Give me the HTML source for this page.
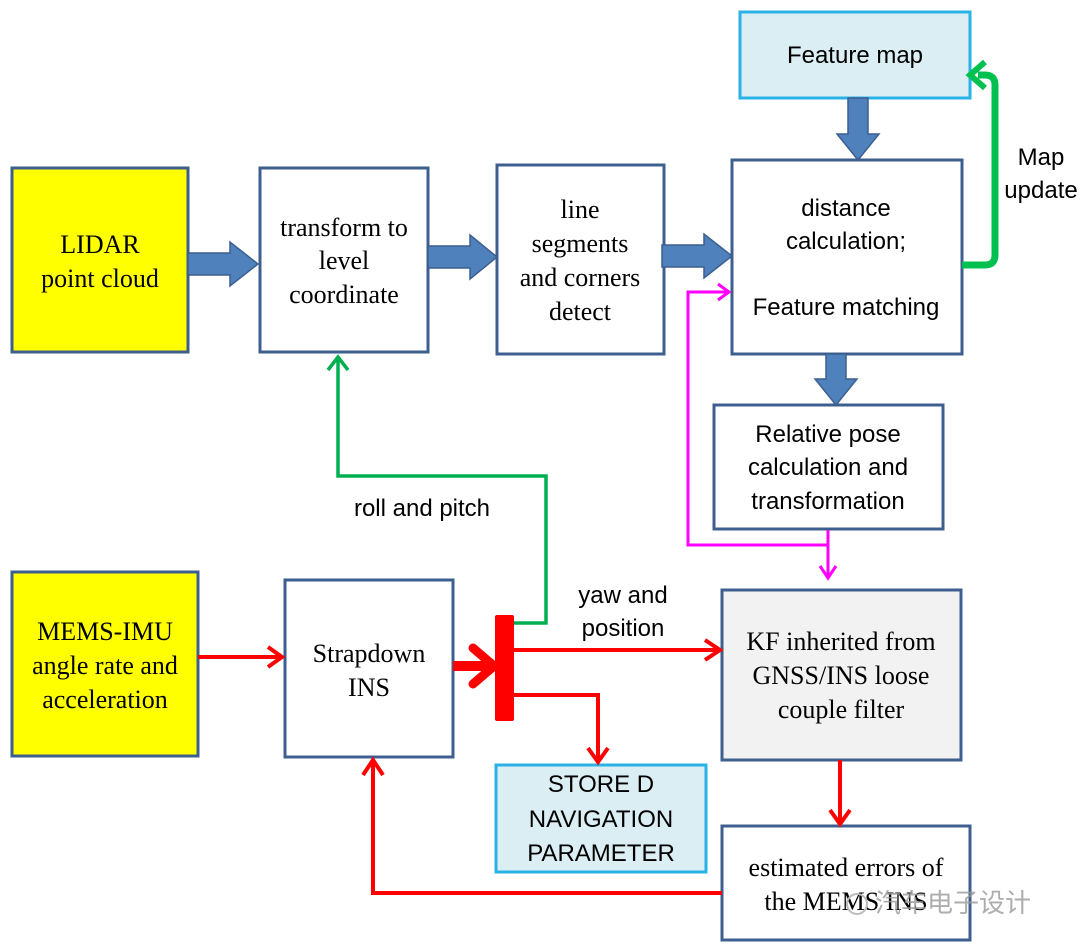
<!DOCTYPE html><html><head><style>body{margin:0;background:#fff}svg{display:block}
.s{font-family:"Liberation Serif",serif;font-size:26px;fill:#000}
.a{font-family:"Liberation Sans",sans-serif;font-size:24px;fill:#000}</style></head><body>
<svg width="1080" height="950" viewBox="0 0 1080 950">
<g stroke="#3d5f8f" stroke-width="3">
<rect x="12" y="168" width="176" height="184" fill="#ffff00"/>
<rect x="260" y="168" width="168" height="184" fill="#fff"/>
<rect x="497" y="165" width="167" height="189" fill="#fff"/>
<rect x="732" y="160" width="230" height="194" fill="#fff"/>
<rect x="714" y="405" width="229" height="124" fill="#fff"/>
<rect x="12" y="572" width="186" height="184" fill="#ffff00"/>
<rect x="285" y="580" width="168" height="177" fill="#fff"/>
<rect x="722" y="590" width="239" height="170" fill="#f2f2f2"/>
<rect x="722" y="826" width="248" height="114" fill="#fff"/>
</g>
<g stroke="#29b2e6" stroke-width="3" fill="#dbeef4">
<rect x="740" y="12" width="230" height="86"/>
<rect x="496" y="765" width="210" height="107"/>
</g>
<g fill="#4f81bd" stroke="#3d5f8f" stroke-width="1.5">
<path d="M188,253 H230 V242 L258,264 L230,286 V275 H188 Z"/>
<path d="M428,246 H470 V235 L497,257 L470,279 V268 H428 Z"/>
<path d="M662,245 H704 V234 L732,256 L704,278 V267 H662 Z"/>
<path d="M848,98 V134 H837 L858,160 L879,134 H868 V98 Z"/>
<path d="M826,354 V379 H815 L836,405 L857,379 H846 V354 Z"/>
</g>
<path d="M962,265 H985 Q995,265 995,255 V85 Q995,75 985,75 H978" fill="none" stroke="#00c050" stroke-width="7"/>
<path d="M985,62 L970,75 L985,88" fill="none" stroke="#00c050" stroke-width="6"/>
<path d="M514,623 H546 V476 H338 V357" fill="none" stroke="#00b050" stroke-width="3.5"/>
<path d="M328,370 L338,357 L348,370" fill="none" stroke="#00b050" stroke-width="3.5"/>
<path d="M828,530 V545 H688 V292 H728" fill="none" stroke="#ff00ff" stroke-width="3"/>
<path d="M718,284 L729,292 L718,300" fill="none" stroke="#ff00ff" stroke-width="3"/>
<path d="M828,545 V576" fill="none" stroke="#ff00ff" stroke-width="3"/>
<path d="M820,566 L828,578 L836,566" fill="none" stroke="#ff00ff" stroke-width="3"/>
<g fill="none" stroke="#ff0000" stroke-width="4">
<path d="M198,657 H281"/><path d="M268,647 L282,657 L268,667"/>
<path d="M514,650 H719"/><path d="M705,640 L720,650 L705,660"/>
<path d="M514,695 H598 V760"/><path d="M588,748 L598,762 L608,748"/>
<path d="M840,760 V823"/><path d="M830,810 L840,824 L850,810"/>
<path d="M722,893 H373 V762"/><path d="M363,775 L373,760 L383,775"/>
</g>
<path d="M453,666 H490" stroke="#ff0000" stroke-width="10"/>
<path d="M473,648 L494,666 L473,684" fill="none" stroke="#ff0000" stroke-width="9" stroke-linecap="round"/>
<rect x="495" y="615" width="19" height="106" fill="#ff0000" rx="2"/>
<g class="s" text-anchor="middle">
<text x="100" y="253">LIDAR</text><text x="100" y="287">point cloud</text>
<text x="344" y="236">transform to</text><text x="344" y="269">level</text><text x="344" y="303">coordinate</text>
<text x="580" y="218">line</text><text x="580" y="252">segments</text><text x="580" y="286">and corners</text><text x="580" y="320">detect</text>
<text x="105" y="640">MEMS-IMU</text><text x="105" y="674">angle rate and</text><text x="105" y="708">acceleration</text>
<text x="369" y="662">Strapdown</text><text x="369" y="696">INS</text>
<text x="841" y="650">KF inherited from</text><text x="841" y="684">GNSS/INS loose</text><text x="841" y="718">couple filter</text>
<text x="846" y="876">estimated errors of</text><text x="846" y="910">the MEMS INS</text>
</g>
<g class="a" text-anchor="middle">
<text x="855" y="63">Feature map</text>
<text x="846" y="216">distance</text><text x="846" y="249">calculation;</text><text x="846" y="315">Feature matching</text>
<text x="828" y="442">Relative pose</text><text x="828" y="475">calculation and</text><text x="828" y="509">transformation</text>
<text x="601" y="792">STORE D</text><text x="601" y="827">NAVIGATION</text><text x="601" y="861">PARAMETER</text>
<text x="1041" y="165">Map</text><text x="1041" y="198">update</text>
<text x="422" y="516">roll and pitch</text>
<text x="623" y="603">yaw and</text><text x="623" y="636">position</text>
</g>
<circle cx="857" cy="904" r="10" fill="none" stroke="#bbb" stroke-width="2"/>
<text x="875" y="912" font-family="Noto Sans CJK SC,sans-serif" font-size="26" fill="#999" opacity="0.8">汽车电子设计</text>
</svg></body></html>
